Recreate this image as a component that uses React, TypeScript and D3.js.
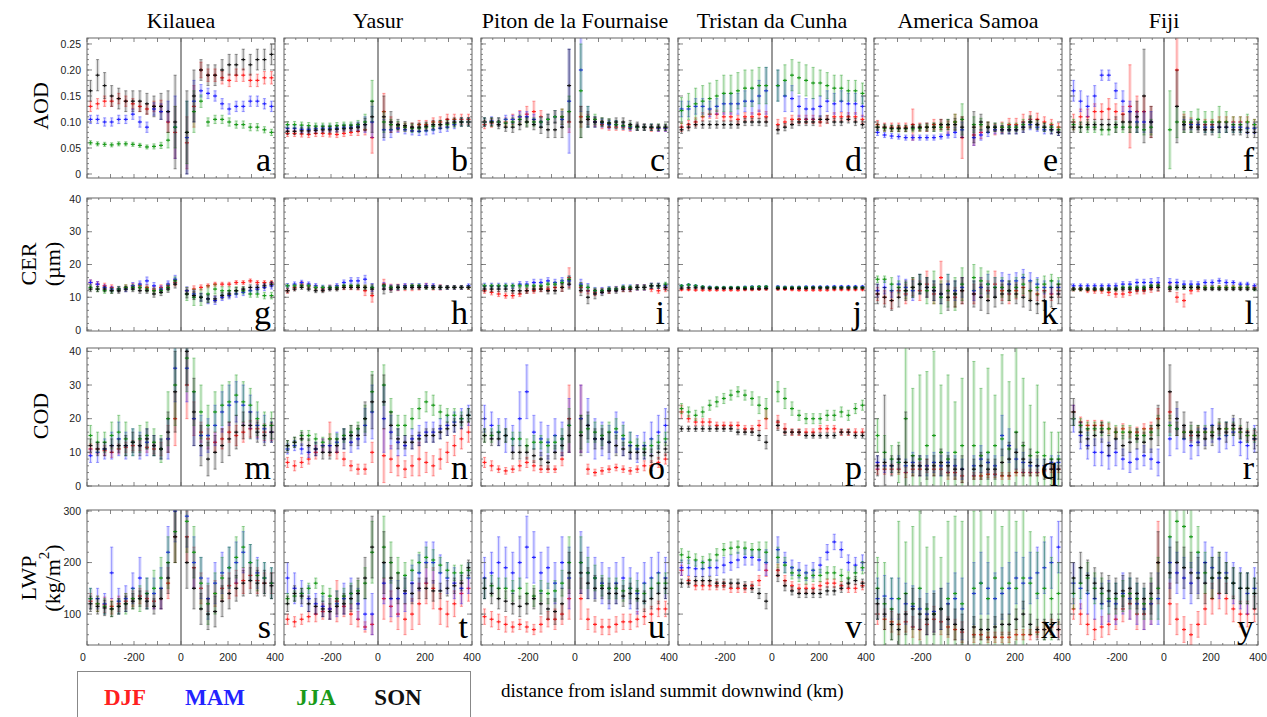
import React from 'react';
import * as d3 from 'd3';

// seasons and sites
const seasons = ['DJF', 'MAM', 'JJA', 'SON'];
const seasonColors = ['#ff2020', '#2323ff', '#1a9a1a', '#111111'];
const sites = ['Kilauea', 'Yasur', 'Piton de la Fournaise', 'Tristan da Cunha', 'America Samoa', 'Fiji'];
const panelLetters = [
  ['a', 'b', 'c', 'd', 'e', 'f'],
  ['g', 'h', 'i', 'j', 'k', 'l'],
  ['m', 'n', 'o', 'p', 'q', 'r'],
  ['s', 't', 'u', 'v', 'x', 'y'],
];

// distance from island summit downwind (km)
const distanceKm = [-385, -355, -325, -295, -265, -235, -205, -175, -145, -115, -85, -55, -25, 25, 55, 85, 115, 145, 175, 205, 235, 265, 295, 325, 355, 385];
const xTickLabels = [-200, 0, 200, 400];

// y ticks per row
const aodTicks = [0, 0.05, 0.1, 0.15, 0.2, 0.25];
const cerTicks = [0, 10, 20, 30, 40];
const codTicks = [0, 10, 20, 30, 40];
const lwpTicks = [100, 200, 300];

// ---------- AOD ----------
const aodKilauea = [
  [.13, .135, .14, .14, .145, .14, .135, .13, .125, .13, .13, .10, .08, .06, .13, .20, .19, .19, .185, .18, .19, .19, .18, .18, .185, .185],
  [.105, .105, .10, .10, .105, .105, .115, .10, .09, .125, .12, .12, .09, .07, .14, .16, .155, .15, .135, .125, .13, .13, .14, .14, .135, .13],
  [.06, .058, .057, .056, .058, .058, .057, .055, .052, .053, .055, .065, .09, .08, .12, .14, .10, .105, .105, .10, .095, .095, .09, .09, .085, .08],
  [.16, .19, .17, .15, .145, .14, .14, .14, .135, .13, .13, .12, .10, .08, .15, .20, .19, .19, .20, .21, .21, .22, .21, .22, .22, .23],
];
const aodKilaueaErr = [
  [.01, .01, .01, .01, .01, .01, .01, .01, .01, .01, .012, .02, .05, .05, .04, .015, .012, .012, .012, .012, .012, .012, .012, .012, .012, .012],
  [.008, .008, .008, .008, .008, .008, .01, .01, .01, .012, .015, .02, .06, .07, .04, .012, .01, .01, .01, .01, .01, .01, .01, .01, .01, .01],
  [.004, .004, .004, .004, .004, .004, .004, .004, .004, .005, .006, .015, .04, .06, .04, .012, .008, .008, .008, .008, .007, .007, .007, .007, .006, .006],
  [.02, .03, .025, .02, .02, .02, .02, .02, .02, .02, .025, .04, .09, .08, .05, .02, .02, .02, .02, .02, .02, .02, .02, .02, .02, .02],
];
const aodYasur = [
  [.078, .078, .077, .076, .078, .078, .077, .076, .078, .08, .082, .085, .07, .12, .095, .09, .09, .09, .095, .095, .10, .10, .105, .105, .105, .105],
  [.088, .088, .086, .086, .087, .088, .088, .088, .09, .09, .092, .095, .10, .085, .085, .088, .085, .083, .082, .083, .085, .088, .09, .095, .10, .10],
  [.095, .095, .094, .093, .092, .092, .092, .093, .094, .094, .095, .10, .14, .10, .095, .093, .09, .088, .088, .09, .092, .095, .095, .098, .10, .10],
  [.082, .082, .083, .083, .084, .085, .085, .086, .087, .088, .09, .095, .11, .11, .10, .095, .093, .09, .09, .092, .095, .095, .098, .10, .10, .10],
];
const aodYasurErr = [
  [.006, .006, .006, .006, .006, .006, .006, .006, .006, .006, .008, .01, .03, .035, .015, .008, .008, .008, .008, .008, .008, .01, .01, .01, .01, .01],
  [.006, .006, .006, .006, .006, .006, .006, .006, .006, .006, .008, .015, .03, .02, .015, .008, .008, .008, .008, .008, .008, .008, .008, .008, .008, .008],
  [.006, .006, .006, .006, .006, .006, .006, .006, .006, .006, .008, .015, .04, .02, .01, .008, .008, .008, .008, .008, .008, .008, .008, .008, .008, .008],
  [.006, .006, .006, .006, .006, .006, .006, .006, .006, .006, .008, .012, .03, .04, .02, .01, .008, .008, .008, .008, .008, .008, .008, .008, .008, .008],
];
const aodPiton = [
  [.095, .098, .10, .10, .105, .11, .115, .12, .11, .105, .11, .11, .10, .11, .105, .10, .095, .09, .09, .09, .088, .09, .09, .088, .088, .088],
  [.10, .102, .10, .105, .105, .11, .11, .105, .10, .105, .11, .105, .14, .20, .11, .10, .098, .095, .095, .092, .09, .09, .09, .09, .088, .088],
  [.10, .10, .10, .098, .10, .105, .10, .10, .10, .105, .11, .11, .12, .16, .11, .105, .10, .098, .095, .093, .092, .09, .09, .09, .09, .09],
  [.10, .10, .095, .09, .09, .095, .10, .095, .09, .085, .085, .09, .17, .10, .105, .10, .10, .098, .10, .10, .095, .092, .09, .09, .09, .09],
];
const aodPitonErr = [
  [.008, .008, .008, .008, .01, .012, .015, .02, .012, .01, .012, .015, .02, .02, .01, .008, .008, .006, .006, .006, .006, .006, .006, .006, .006, .006],
  [.008, .008, .008, .008, .008, .01, .01, .01, .01, .01, .012, .015, .10, .08, .02, .01, .008, .008, .008, .006, .006, .006, .006, .006, .006, .006],
  [.008, .008, .008, .008, .008, .008, .008, .008, .01, .01, .012, .015, .03, .09, .02, .01, .008, .008, .008, .006, .006, .006, .006, .006, .006, .006],
  [.008, .008, .008, .008, .01, .01, .01, .01, .012, .015, .015, .02, .07, .03, .015, .01, .008, .008, .008, .008, .008, .008, .006, .006, .006, .006],
];
const aodTristan = [
  [.09, .095, .10, .11, .115, .115, .11, .11, .105, .11, .11, .115, .11, .095, .10, .105, .105, .105, .105, .10, .105, .11, .11, .11, .11, .105],
  [.125, .125, .13, .13, .125, .13, .135, .135, .135, .14, .14, .15, .16, .17, .15, .145, .13, .125, .125, .13, .14, .135, .14, .135, .135, .13],
  [.122, .13, .135, .14, .145, .15, .155, .155, .16, .165, .165, .17, .17, .17, .18, .19, .185, .18, .175, .175, .17, .165, .165, .16, .16, .155],
  [.085, .09, .095, .095, .095, .095, .095, .095, .095, .10, .10, .10, .10, .085, .09, .095, .10, .10, .10, .105, .105, .10, .10, .105, .10, .095],
];
const aodTristanErr = [
  [.008, .008, .008, .008, .008, .008, .008, .008, .008, .008, .008, .008, .01, .01, .008, .008, .008, .008, .008, .008, .008, .008, .008, .008, .008, .008],
  [.015, .015, .015, .015, .015, .015, .02, .02, .02, .02, .025, .03, .045, .03, .03, .025, .02, .02, .02, .02, .02, .02, .02, .02, .02, .02],
  [.025, .025, .03, .03, .03, .03, .035, .035, .035, .035, .035, .035, .035, .03, .03, .03, .03, .03, .03, .025, .025, .025, .025, .02, .02, .02],
  [.007, .007, .007, .007, .007, .007, .007, .007, .007, .007, .007, .007, .008, .008, .007, .007, .007, .007, .007, .007, .007, .007, .007, .007, .007, .007],
];
const aodSamoa = [
  [.095, .09, .09, .09, .09, .095, .09, .09, .095, .095, .09, .10, .07, .075, .08, .09, .085, .09, .095, .095, .10, .105, .105, .10, .095, .09],
  [.08, .075, .073, .072, .07, .07, .07, .07, .07, .072, .075, .08, .085, .07, .075, .08, .085, .085, .085, .085, .09, .095, .09, .085, .085, .08],
  [.09, .088, .087, .087, .087, .087, .088, .09, .09, .09, .095, .10, .105, .095, .095, .09, .09, .09, .09, .09, .095, .10, .095, .09, .09, .085],
  [.09, .09, .088, .088, .088, .09, .09, .09, .09, .095, .095, .095, .09, .09, .10, .09, .09, .085, .085, .085, .09, .10, .095, .09, .085, .08],
];
const aodSamoaErr = [
  [.008, .008, .008, .008, .008, .03, .008, .008, .01, .01, .012, .015, .04, .02, .012, .01, .01, .01, .012, .012, .015, .015, .012, .01, .01, .008],
  [.006, .005, .005, .005, .005, .005, .005, .005, .005, .005, .006, .01, .015, .015, .01, .008, .008, .008, .008, .008, .01, .01, .008, .008, .008, .006],
  [.006, .006, .006, .006, .006, .006, .006, .006, .008, .008, .01, .015, .03, .015, .012, .01, .008, .008, .008, .008, .01, .01, .008, .008, .008, .006],
  [.006, .006, .006, .006, .006, .006, .006, .008, .008, .01, .01, .012, .02, .03, .015, .01, .008, .008, .008, .008, .01, .012, .01, .008, .008, .006],
];
const aodFiji = [
  [.10, .11, .11, .12, .12, .125, .12, .115, .13, .12, .12, .10, null, null, .20, .10, .098, .095, .095, .095, .10, .10, .10, .10, .10, .095],
  [.16, .14, .13, .15, .19, .19, .16, .14, .12, .10, .10, .10, null, null, null, .095, .095, .095, .09, .09, .09, .09, .09, .09, .088, .088],
  [.095, .09, .09, .09, .085, .085, .09, .09, .09, .09, .085, .09, null, .085, .10, .10, .10, .105, .10, .10, .10, .10, .095, .095, .10, .095],
  [.09, .09, .095, .095, .095, .095, .095, .10, .10, .11, .15, .10, null, null, .13, .095, .09, .09, .085, .085, .09, .09, .085, .085, .08, .08],
];
const aodFijiErr = [
  [.015, .015, .015, .015, .015, .02, .015, .015, .08, .03, .03, .03, 0, 0, .07, .015, .01, .01, .01, .01, .01, .01, .01, .01, .01, .01],
  [.02, .02, .02, .02, .01, .01, .015, .02, .02, .02, .02, .02, 0, 0, 0, .01, .01, .01, .01, .01, .01, .01, .01, .01, .01, .01],
  [.01, .01, .01, .01, .01, .01, .01, .01, .01, .01, .01, .015, 0, .075, .03, .02, .02, .02, .02, .02, .03, .02, .015, .015, .015, .01],
  [.01, .01, .01, .01, .01, .01, .015, .015, .02, .03, .09, .03, 0, 0, .07, .015, .01, .01, .01, .01, .01, .01, .01, .01, .01, .01],
];

// ---------- CER (µm) ----------
const cerKilauea = [
  [14.5, 14, 13.5, 13, 12.5, 13, 13.5, 13.5, 13, 12.5, 13, 13.5, 14.5, 12, 12.5, 13, 13.5, 14, 14, 14, 14.5, 14.5, 15, 14.5, 14.5, 14.5],
  [14.5, 14, 13, 12.5, 12.5, 12.5, 13.5, 14, 15, 13.5, 12.5, 14, 15.5, 12, 11, 10, 9.5, 9, 10, 10.5, 11, 11.5, 12, 12.5, 13, 13.5],
  [13, 12.5, 12, 12, 12.5, 13, 13, 13, 12.5, 12, 12, 13, 15, 11, 10, 10, 11, 12.5, 12, 12, 12, 12, 11, 11, 10.5, 10.5],
  [12.5, 12.5, 12.5, 12, 12, 12.5, 12.5, 12, 12, 11, 11.5, 12.5, 14, 11, 10.5, 10, 9.5, 9.5, 10.5, 11, 12, 12.5, 13, 13, 13.5, 14],
];
const cerKilaueaErr = [
  [.8, .8, .8, .8, .8, .8, .8, .8, .8, .8, .8, .8, 1, 1, 1, .8, .6, .6, .6, .6, .6, .6, .6, .6, .6, .6],
  [.8, .8, .8, .8, .8, .8, 1, 1, 1.2, 1, 1, 1, 1.2, 1.2, 1.2, 1.2, 1.5, 1.2, 1, 1, 1, 1, 1, 1, 1, 1],
  [.8, .8, .8, .8, .8, .8, .8, .8, .8, .8, .8, 1, 1.2, 2, 2.5, 2.5, 2.5, 1.5, 1.2, 1.2, 1.2, 1, 1, 1, 1, 1],
  [.8, .8, .8, .8, .8, .8, .8, .8, .8, 1, 1, 1, 1.2, 1.2, 1.2, 1.2, 1.2, 1, 1, 1, 1, .8, .8, .8, .8, .8],
];
const cerYasur = [
  [12, 13, 14, 13.5, 13, 12.5, 13, 13, 13, 13, 13, 12, 10.5, 14, 13, 13, 13, 13, 13, 13.5, 13, 13, 13, 13, 13, 13],
  [13.5, 14, 14.5, 14, 13.5, 13, 13, 13.5, 14.5, 15, 15, 15.5, 13, 13.5, 13, 13, 13.5, 13.5, 13.5, 13.5, 13.5, 13, 13, 13, 13, 13.5],
  [13.5, 13.5, 13.5, 13.5, 13, 13, 13, 13, 13.5, 13.5, 13.5, 13, 13, 13.5, 13, 13, 13, 13.5, 13.5, 13, 13, 13, 13, 13, 13, 13],
  [12, 12.5, 13, 12.5, 12, 12, 12.5, 12.5, 13, 13, 13, 13, 12.5, 12.5, 12.5, 13, 13, 13, 13, 13, 13, 13, 13, 13, 13, 13],
];
const cerYasurErr = [
  [.8, .8, .8, .7, .7, .7, .7, .7, .7, .7, .8, 1.5, 2, 1.5, 1, 1, 1, 1, .8, .8, .8, .8, .6, .6, .6, .6],
  [.7, .7, .7, .7, .7, .7, .7, .7, .8, 1, 1, 1.2, 1.2, 1, .8, .8, .7, .7, .7, .7, .7, .7, .6, .6, .6, .6],
  [.5, .5, .5, .5, .5, .5, .5, .5, .5, .5, .5, .5, .5, .5, .5, .5, .5, .5, .5, .5, .5, .5, .5, .5, .5, .5],
  [.6, .6, .6, .6, .6, .6, .6, .6, .6, .6, .6, .8, 1.5, 1.5, 1, .8, .6, .6, .6, .6, .6, .6, .5, .5, .5, .5],
];
const cerPiton = [
  [12, 11.5, 11, 10.5, 10.5, 11, 12, 12, 12.5, 12.5, 13, 13, 16, 13, 12, 11.5, 12, 12, 12.5, 12.5, 12.5, 13, 13, 12.5, 12, 12.5],
  [13.5, 13.5, 13.5, 13.5, 13.5, 14, 14, 14.5, 14.5, 15, 14.5, 15, 15, 14, 13, 12, 12, 12.5, 12.5, 13, 13, 13, 13, 13.5, 13.5, 13.5],
  [13.5, 13.5, 13.5, 13.5, 13.5, 13.5, 13.5, 13.5, 13.5, 14, 14, 14.5, 15.5, 13.5, 13, 12, 12, 12.5, 12.5, 13, 13, 13, 13, 13.5, 13.5, 14],
  [12.5, 12.5, 12.5, 12.5, 12, 12, 12, 12.5, 12.5, 12, 12, 13, 14, 12, 10, 11, 11.5, 12, 12, 12.5, 12.5, 13, 13, 13.5, 13.5, 13],
];
const cerPitonErr = [
  [.8, .8, .8, .8, .8, .8, .8, .8, .8, .8, 1, 1.2, 3, 1.5, 1, 1, .8, .8, .8, .8, .8, .8, .8, .8, .8, .8],
  [.8, .8, .8, .8, .8, .8, .8, 1, 1, 1, 1, 1, 1.5, 1.5, 1.2, 1, 1, .8, .8, .8, .8, .8, .8, .8, .8, .8],
  [.5, .5, .5, .5, .5, .5, .5, .5, .6, .6, .6, .8, 1, 1, .8, .8, .6, .6, .6, .6, .6, .6, .6, .6, .6, .6],
  [.8, .8, .8, .8, .8, .8, .8, .8, .8, 1, 1, 1.2, 1.5, 1.5, 2, 1.5, 1, .8, .8, .8, .8, .8, .8, .8, .8, .8],
];
const cerTristan = [
  [12.3, 12.3, 12.2, 12.2, 12.2, 12.2, 12.2, 12.2, 12.2, 12.3, 12.3, 12.4, 12.5, 12.5, 12.4, 12.3, 12.2, 12.2, 12.2, 12.2, 12.2, 12.3, 12.3, 12.3, 12.3, 12.3],
  [13.5, 13.8, 13.5, 13.2, 13.1, 13, 13, 13, 13, 13.1, 13.2, 13.2, 13.2, 13.2, 13.1, 13.1, 13.1, 13.2, 13.2, 13.2, 13.2, 13.3, 13.3, 13.3, 13.3, 13.3],
  [13.5, 13.8, 13.5, 13.2, 13, 13, 13, 13, 13, 13, 13.1, 13.2, 13.2, 13, 13, 13, 13, 13, 13, 13, 13, 13, 13, 13, 13, 13],
  [12.8, 12.9, 12.9, 12.8, 12.7, 12.7, 12.7, 12.7, 12.7, 12.6, 12.6, 12.6, 12.7, 12.7, 12.7, 12.7, 12.7, 12.7, 12.8, 12.8, 12.8, 12.8, 12.8, 12.8, 12.8, 12.8],
];
const cerTristanErr = [
  [.3, .3, .3, .3, .3, .3, .3, .3, .3, .3, .3, .3, .4, .4, .3, .3, .3, .3, .3, .3, .3, .3, .3, .3, .3, .3],
  [.3, .3, .3, .3, .3, .3, .3, .3, .3, .3, .3, .3, .4, .4, .3, .3, .3, .3, .3, .3, .3, .3, .3, .3, .3, .3],
  [.3, .3, .3, .3, .3, .3, .3, .3, .3, .3, .3, .3, .4, .4, .3, .3, .3, .3, .3, .3, .3, .3, .3, .3, .3, .3],
  [.3, .3, .3, .3, .3, .3, .3, .3, .3, .3, .3, .3, .4, .4, .3, .3, .3, .3, .3, .3, .3, .3, .3, .3, .3, .3],
];
const cerSamoa = [
  [11, 10, 9, 12, 11, 13, 12, 14, 11, 16, 12, 10, 12, 11, 13, 12, 14, 12, 11, 12, 13, 12, 11, 12, 11, 12],
  [12, 13, 12, 14, 13, 12, 14, 13, 12, 11, 14, 12, 13, 12, 13, 14, 13, 15, 14, 15, 16, 15, 14, 13, 13, 13],
  [15.5, 15.5, 14, 13, 12, 13, 14, 12, 13, 10, 12, 11, 14, 16, 15, 14, 13, 13, 12, 13, 14, 12, 13, 14, 15, 14],
  [11, 10, 9, 10, 12, 13, 14, 13, 12, 11, 10, 11, 12, 11, 10, 9, 10, 11, 12, 11, 10, 9, 8, 9, 10, 11],
];
const cerSamoaErr = [
  [2, 2, 2.5, 2, 3, 2.5, 3, 4, 3, 5, 3, 3, 4, 3, 3, 3, 4, 3, 3, 2.5, 2.5, 2.5, 2, 2, 2, 2],
  [2, 2, 2, 2.5, 2.5, 3, 3, 3, 3, 3, 3, 3, 3, 3, 3, 3, 3, 2.5, 3, 2.5, 2.5, 2.5, 2, 2, 2, 2],
  [1, 1, 2, 2, 2.5, 3, 3, 4, 5, 5, 5, 5, 5, 4, 4, 4, 3, 3, 3, 3, 3, 3, 2.5, 2.5, 2, 2],
  [3, 3, 3, 3, 3, 3, 3, 3, 3, 3, 4, 4, 4, 4, 4, 4, 3, 3, 3, 3, 3, 3, 3, 3, 3, 3],
];
const cerFiji = [
  [12.5, 12.5, 12, 12, 12, 11.5, 11, 11, 11.5, 12, 12, 12.5, 13, 13, 10, 9, 12, 12.5, 13, 13, 13, 13, 13, 13, 13, 13],
  [13.5, 13.5, 13.5, 13.5, 13.5, 13.5, 13.5, 14, 14, 14.5, 14.5, 14.5, 14.5, 14.5, 14.5, 14, 14, 14, 14.5, 14.5, 15, 14.5, 14.5, 14, 14, 13.5],
  [12.5, 12.5, 12.5, 12.5, 12.5, 12.5, 12.5, 13, 13, 13, 13, 13.5, 13.5, 13, 13, 13, 13, 13, 13, 13, 13, 13, 13, 13, 13, 12.5],
  [12.5, 12.5, 12.5, 12.5, 12.5, 12.5, 12.5, 12.5, 12.5, 12.5, 12.5, 13, 13, 12.5, 13, 13, 13, 13, 12.5, 12.5, 12.5, 12.5, 12.5, 12.5, 12.5, 12.5],
];
const cerFijiErr = [
  [.6, .6, .6, .8, .8, 1, 1, 1, 1, 1, 1, 1, 1.2, 1.2, 1.5, 2, 1, .8, .6, .6, .6, .6, .6, .6, .6, .6],
  [.6, .6, .6, .6, .6, .6, .8, .8, .8, 1, 1, 1.2, 1.5, 1.2, 1, 1, 1, .8, .8, .8, .8, .8, .6, .6, .6, .6],
  [.5, .5, .5, .5, .5, .5, .5, .5, .5, .5, .5, .5, .5, .5, .5, .5, .5, .5, .5, .5, .5, .5, .5, .5, .5, .5],
  [.5, .5, .5, .5, .5, .5, .6, .6, .6, .8, .8, .8, 1, .8, .8, .6, .6, .5, .5, .5, .5, .5, .5, .5, .5, .5],
];

// ---------- COD ----------
const codKilauea = [
  [11, 11, 10.5, 10, 11, 11.5, 12, 12, 11.5, 11, 11, 14, 20, 30, 20, 16, 14, 13, 14, 16, 15, 16, 17, 17, 16, 16],
  [9, 10, 11, 12, 14, 12, 13, 12, 13, 12, 11, 14, 35, 35, 20, 15, 15, 18, 22, 24, 25, 24, 22, 18, 17, 16],
  [15, 13, 13, 15, 16, 14, 13, 14, 15, 13, 11, 20, 30, 38, 28, 22, 18, 22, 24, 25, 27, 25, 24, 20, 18, 18],
  [12, 11, 11, 12, 12, 12, 13, 12, 14, 12, 11, 16, 28, 40, 22, 12, 8, 10, 12, 14, 16, 18, 18, 16, 15, 16],
];
const codKilaueaErr = [
  [1.5, 1.5, 1.5, 1.5, 1.5, 1.5, 1.5, 1.5, 1.5, 1.5, 2, 4, 8, 10, 5, 3, 3, 3, 3, 3, 3, 3, 2.5, 2.5, 2.5, 2.5],
  [2, 3, 3, 4, 5, 4, 4, 4, 4, 3, 3, 6, 10, 10, 8, 6, 5, 6, 6, 6, 6, 6, 5, 4, 4, 3],
  [3, 3, 3, 4, 5, 5, 4, 4, 4, 4, 4, 8, 12, 10, 10, 8, 6, 6, 6, 6, 6, 6, 5, 5, 4, 4],
  [2, 2, 2, 2, 2, 3, 3, 3, 3, 3, 3, 6, 12, 10, 10, 6, 5, 5, 5, 5, 5, 4, 4, 3, 3, 3],
];
const codYasur = [
  [7, 6, 7, 8, 10, 12, 14, 10, 8, 6, 5, 5, 10, 9, 8, 6, 5, 6, 8, 7, 6, 8, 10, 12, 14, 16],
  [11, 12, 11, 10, 11, 12, 12, 13, 14, 13, 14, 18, 22, 20, 16, 13, 12, 14, 15, 16, 16, 17, 18, 19, 20, 21],
  [12, 13, 15, 15, 14, 13, 14, 14, 15, 16, 17, 20, 28, 30, 22, 18, 18, 20, 23, 25, 24, 22, 21, 21, 20, 21],
  [12, 13, 14, 12, 11, 10, 10, 12, 14, 15, 15, 20, 25, 25, 18, 14, 13, 13, 14, 15, 15, 16, 17, 18, 19, 21],
];
const codYasurErr = [
  [1.5, 1.5, 1.5, 1.5, 2, 2, 5, 2, 2, 1.5, 1.5, 1.5, 3, 8, 4, 3, 2.5, 3, 5, 3, 3, 3, 3, 3, 3, 3],
  [1.5, 1.5, 1.5, 1.5, 2, 2, 2, 3, 3, 3, 3, 5, 8, 10, 5, 4, 3, 3, 3, 3, 3, 3, 3, 3, 3, 3],
  [1.5, 1.5, 1.5, 1.5, 1.5, 1.5, 1.5, 1.5, 2, 2, 2, 4, 6, 6, 4, 3, 3, 3, 3, 3, 3, 2, 2, 2, 2, 2],
  [1.5, 1.5, 2, 2, 2, 2, 2, 2, 3, 3, 3, 5, 8, 8, 4, 3, 2, 2, 2, 2, 2, 2, 2, 2, 2, 2],
];
const codPiton = [
  [7, 6, 5, 4.5, 5, 6, 7, 6, 5, 5, 5, 8, 20, 20, 5, 4, 4.5, 5, 5.5, 5, 4.5, 5, 6, 6, 7, 8],
  [20, 18, 16, 15, 14, 20, 28, 16, 14, 13, 15, 14, 18, 20, 18, 14, 14, 13, 16, 14, 12, 11, 12, 14, 16, 18],
  [15, 15, 16, 15, 14, 14, 12, 13, 13, 12, 13, 14, 18, 16, 17, 16, 15, 16, 17, 15, 13, 12, 11, 12, 13, 14],
  [15, 14, 14, 15, 10, 10, 10, 9, 8, 7, 10, 12, 15, 15, 18, 14, 14, 13, 12, 11, 10, 10, 10, 9, 10, 11],
];
const codPitonErr = [
  [1.5, 1.5, 1, 1, 1, 1.5, 1.5, 1.5, 1, 1, 1, 2, 10, 10, 1.5, 1, 1, 1, 1, 1, 1, 1, 1.5, 1.5, 1.5, 1.5],
  [4, 4, 4, 5, 4, 8, 8, 5, 5, 5, 5, 5, 8, 10, 8, 6, 5, 5, 6, 5, 4, 4, 4, 5, 5, 5],
  [2, 2, 2, 2, 2, 2, 2, 2, 2, 2, 2, 3, 5, 5, 4, 3, 3, 3, 3, 3, 3, 2, 2, 2, 2, 2],
  [2, 2, 2, 2, 2, 2, 2, 2, 2, 2, 2, 3, 5, 6, 4, 3, 3, 3, 3, 2, 2, 2, 2, 2, 2, 2],
];
const codTristan = [
  [22, 20, 19, 19, 19, 18, 18, 18, 18, 17, 17, 18, 20, 19, 17, 16, 16, 16, 16, 17, 17, 17, 16, 16, 16, 16],
  [null, null, null, null, null, null, null, null, null, null, null, null, null, null, null, null, null, null, null, null, null, null, null, null, null, null],
  [23, 22, 21, 22, 24, 25, 26, 27, 28, 27, 26, 24, 23, 28, 26, 23, 21, 20, 20, 20, 21, 21, 22, 21, 23, 24],
  [17, 17, 17, 17, 17, 17, 17, 17, 16, 16, 16, 15, 13, 18, 16, 16, 16, 15, 15, 15, 15, 15, 16, 16, 15, 15],
];
const codTristanErr = [
  [2, 1, 1, 1, 1, 1, 1, 1, 1, 1, 1, 1.5, 3, 2, 1.5, 1, 1, 1, 1, 1, 1, 1, 1, 1, 1, 1],
  [0, 0, 0, 0, 0, 0, 0, 0, 0, 0, 0, 0, 0, 0, 0, 0, 0, 0, 0, 0, 0, 0, 0, 0, 0, 0],
  [1.5, 1.5, 1.5, 1.5, 1.5, 1.5, 1.5, 1.5, 1.5, 1.5, 2, 2.5, 3, 3, 3, 2, 1.5, 1.5, 1.5, 1.5, 1.5, 1.5, 1.5, 1.5, 1.5, 1.5],
  [.8, .8, .8, .8, .8, .8, .8, .8, .8, .8, 1, 1.5, 2, 1.5, 1, .8, .8, .8, .8, .8, .8, .8, .8, .8, .8, .8],
];
const codSamoa = [
  [5, 5, 5, 5, 4, 5, 5, 6, 5, 5, 4, 4, 3, 3, 3, 3.5, 3.5, 3, 3, 4, 4, 4, 4, 4.5, 5, 5],
  [7, 6, 6, 7, 6, 7, 6, 6, 7, 6, 7, 6, 5, 6, 8, 7, 6, 15, 12, 8, 7, 6, 6, 6, 7, 7],
  [15, 10, 8, 7, 20, 9, 8, 12, 15, 10, 8, 10, 12, 12, 9, 10, 12, 14, 11, 16, 12, 9, 10, 9, 8, 8],
  [6, 7, 6, 8, 7, 6, 6, 5, 6, 7, 6, 5, 5, 5, 6, 5, 5, 7, 8, 10, 8, 7, 6, 5, 5, 5],
];
const codSamoaErr = [
  [1.5, 1.5, 1.5, 1.5, 1.5, 2, 2, 2, 2, 1.5, 2, 2, 2, 1, 1, 1, 1, 1, 1, 1, 1, 1, 1, 1, 1, 1],
  [2, 2, 2, 2, 2, 3, 3, 3, 3, 3, 3, 3, 3, 3, 4, 3, 3, 6, 5, 3, 3, 2, 2, 2, 2, 2],
  [5, 5, 4, 6, 25, 20, 25, 22, 25, 20, 25, 15, 20, 25, 20, 25, 15, 25, 20, 30, 20, 15, 20, 10, 8, 8],
  [3, 20, 3, 4, 15, 3, 3, 3, 3, 4, 3, 3, 4, 3, 4, 3, 3, 4, 5, 6, 5, 4, 3, 3, 3, 3],
];
const codFiji = [
  [22, 19, 18, 18, 18, 17, 16, 17, 16, 16, 17, 17, 20, 22, 17, 16, 15, 16, 16, 16, 17, 17, 17, 16, 15, 15],
  [20, 15, 12, 10, 10, 9, 10, 8, 7, 8, 9, 8, 7, 14, 17, 14, 12, 13, 17, 18, 14, 15, 16, 13, 12, 14],
  [20, 18, 17, 17, 17, 17, 16, 16, 16, 15, 15, 16, 18, 18, 17, 16, 16, 16, 16, 16, 17, 17, 17, 16, 15, 15],
  [22, 16, 14, 15, 16, 12, 14, 12, 13, 14, 13, 14, 18, 28, 20, 18, 16, 15, 14, 15, 17, 16, 18, 17, 16, 14],
];
const codFijiErr = [
  [2, 1.5, 1.5, 1.5, 1.5, 1.5, 1.5, 1.5, 1.5, 1.5, 1.5, 2, 3, 6, 2, 1.5, 1.5, 1.5, 1.5, 1.5, 1.5, 1.5, 1.5, 1.5, 1.5, 1.5],
  [4, 4, 4, 4, 4, 4, 4, 3, 3, 3, 3, 3, 4, 5, 6, 4, 4, 4, 5, 5, 4, 4, 4, 4, 4, 4],
  [2, 2, 2, 2, 2, 2, 2, 2, 2, 2, 2, 2, 3, 3, 2, 2, 2, 2, 2, 2, 2, 2, 2, 2, 2, 2],
  [4, 3, 3, 3, 3, 3, 3, 3, 3, 3, 3, 4, 6, 8, 5, 4, 3, 3, 3, 3, 3, 3, 3, 3, 3, 3],
];

// ---------- LWP (kg/m2) ----------
const lwpKilauea = [
  [125, 120, 118, 115, 120, 125, 130, 135, 130, 125, 130, 160, 250, 250, 190, 150, 130, 140, 150, 155, 160, 165, 175, 165, 160, 160],
  [130, 130, 120, 180, 125, 130, 150, 170, 140, 140, 150, 220, 300, 290, 200, 170, 130, 160, 180, 190, 200, 220, 200, 180, 170, 160],
  [130, 120, 115, 110, 115, 120, 130, 130, 140, 150, 170, 200, 260, 280, 220, 160, 120, 140, 170, 190, 210, 230, 200, 175, 170, 160],
  [120, 115, 112, 110, 115, 120, 125, 130, 125, 115, 130, 170, 250, 200, 150, 110, 100, 105, 125, 140, 150, 160, 165, 160, 160, 155],
];
const lwpKilaueaErr = [
  [15, 15, 15, 15, 15, 15, 15, 15, 15, 15, 20, 30, 50, 50, 40, 30, 25, 25, 25, 25, 25, 25, 25, 25, 20, 20],
  [20, 20, 20, 50, 25, 25, 30, 40, 30, 30, 40, 50, 60, 60, 50, 40, 40, 40, 40, 40, 40, 40, 35, 30, 30, 30],
  [20, 15, 15, 15, 15, 20, 20, 25, 30, 35, 40, 50, 60, 60, 50, 50, 40, 40, 40, 40, 40, 40, 35, 30, 30, 30],
  [15, 15, 15, 15, 15, 15, 15, 15, 15, 15, 20, 30, 50, 50, 40, 30, 30, 30, 30, 30, 25, 25, 25, 25, 25, 25],
];
const lwpYasur = [
  [90, 85, 90, 95, 100, 105, 110, 125, 115, 100, 90, 75, 80, 130, 115, 100, 90, 100, 120, 160, 150, 110, 100, 120, 140, 150],
  [170, 150, 140, 130, 120, 115, 110, 120, 130, 140, 120, 100, 100, 160, 130, 130, 140, 160, 180, 200, 200, 180, 170, 160, 150, 170],
  [130, 135, 140, 150, 160, 140, 135, 130, 135, 140, 145, 160, 220, 230, 200, 180, 175, 185, 200, 210, 205, 195, 185, 180, 180, 185],
  [120, 140, 135, 120, 115, 110, 105, 115, 120, 130, 140, 170, 230, 200, 170, 150, 145, 140, 150, 150, 145, 145, 150, 155, 160, 190],
];
const lwpYasurErr = [
  [10, 10, 10, 10, 15, 15, 20, 40, 20, 20, 15, 10, 20, 40, 30, 30, 30, 30, 40, 40, 40, 30, 25, 25, 25, 25],
  [30, 30, 25, 25, 20, 20, 20, 25, 30, 30, 30, 30, 40, 40, 35, 35, 35, 35, 35, 40, 40, 35, 30, 30, 30, 30],
  [10, 10, 10, 10, 10, 15, 15, 15, 15, 20, 20, 30, 60, 60, 40, 30, 25, 20, 20, 20, 20, 15, 15, 15, 15, 15],
  [15, 15, 15, 15, 15, 15, 15, 15, 20, 25, 30, 40, 60, 60, 40, 30, 25, 20, 20, 20, 20, 15, 15, 15, 15, 15],
];
const lwpPiton = [
  [95, 90, 85, 80, 75, 80, 75, 70, 80, 90, 90, 100, 130, 130, 90, 80, 75, 75, 80, 85, 85, 90, 95, 100, 110, 110],
  [170, 180, 200, 190, 180, 200, 230, 210, 180, 190, 160, 200, 170, 200, 180, 170, 160, 150, 160, 170, 150, 140, 160, 170, 180, 170],
  [150, 155, 150, 150, 145, 150, 140, 135, 145, 140, 145, 160, 200, 200, 180, 170, 155, 150, 150, 145, 150, 145, 140, 150, 160, 160],
  [150, 140, 130, 125, 120, 115, 120, 130, 120, 110, 105, 120, 180, 180, 160, 150, 150, 140, 140, 135, 140, 130, 125, 130, 140, 150],
];
const lwpPitonErr = [
  [15, 15, 15, 15, 10, 10, 10, 10, 15, 15, 20, 20, 40, 40, 20, 15, 15, 15, 15, 15, 15, 15, 15, 15, 15, 15],
  [40, 40, 50, 40, 40, 50, 60, 50, 40, 40, 40, 50, 60, 60, 50, 40, 40, 40, 40, 40, 40, 40, 40, 40, 40, 40],
  [20, 20, 20, 20, 20, 20, 20, 20, 20, 20, 20, 25, 50, 50, 30, 25, 20, 20, 20, 20, 20, 20, 20, 20, 20, 20],
  [20, 20, 20, 20, 20, 20, 20, 20, 20, 20, 25, 30, 40, 40, 30, 25, 20, 20, 20, 20, 20, 20, 20, 20, 20, 20],
];
const lwpTristan = [
  [185, 165, 155, 155, 155, 155, 155, 150, 150, 150, 155, 165, 185, 185, 165, 155, 150, 150, 150, 155, 160, 160, 155, 150, 150, 155],
  [190, 190, 188, 188, 190, 190, 195, 200, 205, 210, 210, 205, 200, 225, 200, 190, 185, 180, 185, 195, 220, 240, 225, 200, 195, 200],
  [215, 210, 205, 200, 205, 215, 225, 228, 230, 228, 225, 225, 220, 210, 195, 180, 175, 170, 175, 175, 180, 180, 175, 170, 180, 190],
  [160, 160, 165, 165, 165, 160, 160, 160, 160, 155, 150, 140, 125, 175, 155, 145, 140, 140, 140, 140, 145, 145, 150, 160, 165, 160],
];
const lwpTristanErr = [
  [10, 8, 8, 8, 8, 8, 8, 8, 8, 8, 8, 10, 12, 12, 10, 8, 8, 8, 8, 8, 8, 8, 8, 8, 8, 8],
  [15, 15, 15, 15, 15, 15, 15, 15, 15, 15, 15, 20, 25, 25, 20, 15, 15, 15, 15, 15, 15, 15, 15, 15, 15, 15],
  [12, 12, 12, 12, 12, 12, 12, 12, 12, 12, 12, 15, 20, 20, 15, 12, 12, 12, 12, 12, 12, 12, 12, 12, 12, 12],
  [8, 8, 8, 8, 8, 8, 8, 8, 8, 8, 8, 10, 15, 12, 10, 8, 8, 8, 8, 8, 8, 8, 8, 8, 8, 8],
];
const lwpSamoa = [
  [100, 90, 85, 80, 85, 75, 70, 80, 90, 85, 75, 70, 65, 60, 60, 55, 55, 55, 55, 60, 60, 60, 65, 70, 75, 70],
  [130, 135, 130, 130, 120, 115, 110, 100, 105, 110, 120, 130, 110, 140, 160, 150, 130, 140, 150, 170, 160, 170, 180, 190, 200, 230],
  [150, 120, 110, 130, 140, 120, 150, 110, 100, 110, 130, 140, 120, 150, 160, 130, 170, 150, 160, 150, 170, 160, 140, 150, 130, 140],
  [120, 100, 80, 70, 100, 110, 100, 90, 100, 110, 90, 80, 70, 75, 70, 70, 75, 80, 80, 90, 100, 80, 70, 70, 80, 70],
];
const lwpSamoaErr = [
  [20, 20, 20, 20, 20, 20, 20, 20, 25, 25, 20, 20, 20, 15, 10, 10, 10, 10, 10, 10, 10, 10, 10, 15, 15, 15],
  [40, 40, 40, 40, 40, 40, 40, 40, 40, 40, 40, 50, 60, 60, 60, 50, 50, 50, 50, 50, 50, 50, 50, 50, 50, 50],
  [60, 80, 60, 150, 100, 150, 150, 120, 150, 100, 150, 150, 160, 150, 150, 120, 150, 120, 150, 130, 150, 100, 80, 100, 80, 60],
  [30, 30, 30, 30, 40, 40, 30, 30, 40, 40, 30, 30, 30, 20, 20, 20, 20, 20, 20, 20, 25, 20, 20, 20, 20, 20],
];
const lwpFiji = [
  [110, 100, 80, 70, 75, 80, 90, 110, 120, 100, 100, 120, 200, 120, 90, 70, 60, 80, 110, 130, 140, 130, 110, 100, 100, 110],
  [160, 150, 140, 130, 120, 125, 120, 140, 130, 120, 110, 120, 130, 200, 180, 170, 160, 180, 200, 190, 170, 180, 160, 150, 140, 150],
  [140, 160, 170, 150, 140, 130, 130, 135, 140, 130, 120, 130, 150, 250, 280, 270, 250, 220, 180, 170, 180, 170, 160, 150, 150, 140],
  [170, 190, 175, 160, 150, 145, 140, 145, 150, 140, 130, 140, 200, 180, 200, 190, 180, 170, 160, 170, 180, 170, 160, 150, 150, 140],
];
const lwpFijiErr = [
  [20, 20, 20, 20, 20, 20, 20, 25, 30, 30, 30, 40, 80, 40, 30, 25, 20, 25, 30, 30, 30, 30, 25, 25, 25, 25],
  [40, 40, 40, 40, 40, 40, 40, 40, 40, 40, 40, 40, 50, 50, 40, 40, 40, 40, 40, 40, 40, 40, 40, 40, 40, 40],
  [30, 30, 30, 30, 30, 30, 30, 30, 30, 30, 30, 40, 60, 80, 80, 80, 60, 50, 40, 40, 40, 30, 30, 30, 30, 30],
  [30, 30, 30, 30, 30, 30, 30, 30, 30, 30, 30, 40, 60, 50, 40, 40, 40, 40, 40, 40, 40, 30, 30, 30, 30, 30],
];

type Series = (number | null)[][];

const rows = [
  { label: ['AOD'], domain: [-0.0077, 0.2615], ticks: aodTicks, fmt: (v: number) => (v === 0 ? '0' : v.toFixed(2)), minor: 0.01,
    values: [aodKilauea, aodYasur, aodPiton, aodTristan, aodSamoa, aodFiji],
    errors: [aodKilaueaErr, aodYasurErr, aodPitonErr, aodTristanErr, aodSamoaErr, aodFijiErr] },
  { label: ['CER', '(µm)'], domain: [-0.3, 40.3], ticks: cerTicks, fmt: (v: number) => String(v), minor: 2,
    values: [cerKilauea, cerYasur, cerPiton, cerTristan, cerSamoa, cerFiji],
    errors: [cerKilaueaErr, cerYasurErr, cerPitonErr, cerTristanErr, cerSamoaErr, cerFijiErr] },
  { label: ['COD'], domain: [0, 41], ticks: codTicks, fmt: (v: number) => String(v), minor: 2,
    values: [codKilauea, codYasur, codPiton, codTristan, codSamoa, codFiji],
    errors: [codKilaueaErr, codYasurErr, codPitonErr, codTristanErr, codSamoaErr, codFijiErr] },
  { label: ['LWP', '(kg/m2)'], domain: [40, 302], ticks: lwpTicks, fmt: (v: number) => String(v), minor: 20,
    values: [lwpKilauea, lwpYasur, lwpPiton, lwpTristan, lwpSamoa, lwpFiji],
    errors: [lwpKilaueaErr, lwpYasurErr, lwpPitonErr, lwpTristanErr, lwpSamoaErr, lwpFijiErr] },
];

// layout
const colLefts = [87, 284, 481, 678, 874, 1070];
const panelWidth = 188;
const rowTops = [38, 198, 348, 510];
const rowHeights = [140, 133, 138, 135];

const SANS = '"Liberation Sans", Arial, sans-serif';
const SERIF = '"Liberation Serif", "Times New Roman", serif';

interface PanelProps {
  row: number;
  col: number;
}

const Panel: React.FC<PanelProps> = ({ row, col }) => {
  const cfg = rows[row];
  const left = colLefts[col];
  const top = rowTops[row];
  const w = panelWidth;
  const h = rowHeights[row];
  const x = d3.scaleLinear().domain([-400, 400]).range([0, w]);
  const y = d3.scaleLinear().domain(cfg.domain).range([h, 0]);
  const values = cfg.values[col] as Series;
  const errors = cfg.errors[col] as number[][];
  const clipId = `clip-${row}-${col}`;

  const minorY = d3.range(Math.ceil(cfg.domain[0] / cfg.minor) * cfg.minor, cfg.domain[1], cfg.minor);
  const xTicks = d3.range(-400, 401, 50);

  return (
    <g transform={`translate(${left},${top})`}>
      <defs>
        <clipPath id={clipId}>
          <rect x={0} y={0} width={w} height={h} />
        </clipPath>
      </defs>
      <rect x={0} y={0} width={w} height={h} fill="#fff" />
      <g clipPath={`url(#${clipId})`}>
        {values.map((series, s) => (
          <g key={s} stroke={seasonColors[s]} fill={seasonColors[s]}>
            {series.map((v, i) => {
              if (v === null || v === undefined) return null;
              const e = errors[s][i] ?? 0;
              const cx = x(distanceKm[i]);
              const y0 = y(v + e);
              const y1 = y(v - e);
              return (
                <g key={i}>
                  <rect x={cx - 1.8} y={y0} width={3.6} height={Math.max(0, y1 - y0)} stroke="none" fillOpacity={0.13} />
                  <line x1={cx} x2={cx} y1={y0} y2={y1} strokeWidth={0.7} strokeOpacity={0.6} />
                  <line x1={cx - 1.5} x2={cx + 1.5} y1={y0} y2={y0} strokeWidth={0.7} strokeOpacity={0.6} />
                  <line x1={cx - 1.5} x2={cx + 1.5} y1={y1} y2={y1} strokeWidth={0.7} strokeOpacity={0.6} />
                  <line x1={cx - 2} x2={cx + 2} y1={y(v)} y2={y(v)} strokeWidth={1.2} />
                  <line x1={cx} x2={cx} y1={y(v) - 1.5} y2={y(v) + 1.5} strokeWidth={0.9} />
                </g>
              );
            })}
          </g>
        ))}
      </g>
      {/* summit line */}
      <line x1={x(0)} x2={x(0)} y1={0} y2={h} stroke="#555" strokeWidth={1.2} />
      {/* inward ticks */}
      <g stroke="#666" strokeWidth={0.8}>
        {xTicks.map(t => {
          const len = t % 100 === 0 ? 4 : 2;
          return (
            <g key={t}>
              <line x1={x(t)} x2={x(t)} y1={h} y2={h - len} />
              <line x1={x(t)} x2={x(t)} y1={0} y2={len} />
            </g>
          );
        })}
        {minorY.map(t => (
          <g key={`m${t}`}>
            <line x1={0} x2={2} y1={y(t)} y2={y(t)} />
            <line x1={w} x2={w - 2} y1={y(t)} y2={y(t)} />
          </g>
        ))}
        {cfg.ticks.map(t => (
          <g key={`t${t}`}>
            <line x1={0} x2={5} y1={y(t)} y2={y(t)} />
            <line x1={w} x2={w - 5} y1={y(t)} y2={y(t)} />
          </g>
        ))}
      </g>
      <rect x={0} y={0} width={w} height={h} fill="none" stroke="#666" strokeWidth={1} />
      {/* y tick labels on first column */}
      {col === 0 && cfg.ticks.map(t => (
        <text key={`l${t}`} x={-6} y={y(t)} dy="0.35em" textAnchor="end" fontFamily={SANS} fontSize={10.5} fill="#222">
          {cfg.fmt(t)}
        </text>
      ))}
      {/* x tick labels on last row */}
      {row === 3 && xTickLabels.map(t => (
        <text key={`x${t}`} x={x(t)} y={h + 16} textAnchor="middle" fontFamily={SANS} fontSize={10.5} fill="#222">
          {t}
        </text>
      ))}
      {row === 3 && col === 0 && (
        <text x={-4} y={h + 16} textAnchor="middle" fontFamily={SANS} fontSize={10.5} fill="#222">0</text>
      )}
      <text x={w - 4} y={h - 7} textAnchor="end" fontFamily={SERIF} fontSize={34} fill="#000">
        {panelLetters[row][col]}
      </text>
    </g>
  );
};

const yLabelPos = [
  { x: 40, y: 106 },
  { x: 40, y: 264 },
  { x: 40, y: 416 },
  { x: 40, y: 578 },
];

export default function App() {
  return (
    <div style={{ position: 'absolute', left: 0, top: 0 }}>
      <svg width={1267} height={717} style={{ display: 'block', background: '#fff' }}>
        {sites.map((s, c) => (
          <text key={s} x={colLefts[c] + panelWidth / 2} y={28} textAnchor="middle" fontFamily={SERIF} fontSize={22} fill="#000">
            {s}
          </text>
        ))}
        {rows.map((r, ri) => {
          const p = yLabelPos[ri];
          if (r.label.length === 1) {
            return (
              <text key={ri} transform={`translate(${p.x},${p.y}) rotate(-90)`} textAnchor="middle" dominantBaseline="central" fontFamily={SERIF} fontSize={22}>
                {r.label[0]}
              </text>
            );
          }
          return (
            <g key={ri} transform={`translate(${p.x},${p.y}) rotate(-90)`} fontFamily={SERIF} fontSize={22}>
              <text x={0} y={-12} textAnchor="middle" dominantBaseline="central">{r.label[0]}</text>
              {ri === 3 ? (
                <text x={0} y={12} textAnchor="middle" dominantBaseline="central">
                  (kg/m<tspan dy={-8} fontSize={15}>2</tspan><tspan dy={8}>)</tspan>
                </text>
              ) : (
                <text x={0} y={12} textAnchor="middle" dominantBaseline="central">{r.label[1]}</text>
              )}
            </g>
          );
        })}
        {rows.map((_, ri) => colLefts.map((__, ci) => <Panel key={`${ri}-${ci}`} row={ri} col={ci} />))}
        {/* legend */}
        <rect x={77.5} y={671.5} width={393} height={60} fill="none" stroke="#888" strokeWidth={1} />
        {seasons.map((s, i) => (
          <text key={s} x={[125, 215, 316, 398][i]} y={705} textAnchor="middle" fontFamily={SERIF} fontWeight="bold" fontSize={23} fill={seasonColors[i]}>
            {s}
          </text>
        ))}
        <text x={501} y={697} fontFamily={SERIF} fontSize={19} fill="#000">
          distance from island summit downwind (km)
        </text>
      </svg>
    </div>
  );
}
